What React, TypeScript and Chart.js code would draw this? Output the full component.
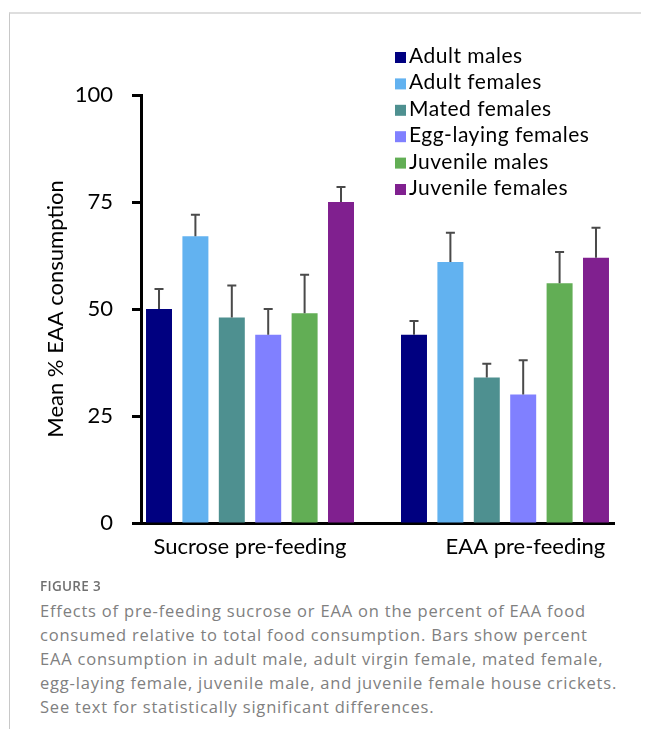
import React, { useEffect, useRef } from 'react';
import { Chart, registerables } from 'chart.js';

Chart.register(...registerables);

// ---- data ----
const conditions = ['Sucrose pre-feeding', 'EAA pre-feeding'];
const conditionIndex = [0, 1];
const conditionLabelPositions = [0, 1.08];
const seriesNames = [
  'Adult males',
  'Adult females',
  'Mated females',
  'Egg-laying females',
  'Juvenile males',
  'Juvenile females',
];
const seriesColors = ['#000080', '#62B2F0', '#4E9090', '#8080FF', '#62AE55', '#80208F'];
const adultMales = [50, 44];
const adultFemales = [67, 61];
const matedFemales = [48, 34];
const eggLayingFemales = [44, 30];
const juvenileMales = [49, 56];
const juvenileFemales = [75, 62];
const adultMalesErr = [4.7, 3.2];
const adultFemalesErr = [5, 6.8];
const matedFemalesErr = [7.5, 3.2];
const eggLayingFemalesErr = [6, 8];
const juvenileMalesErr = [9, 7.3];
const juvenileFemalesErr = [3.5, 7];
const yTicks = [0, 25, 50, 75, 100];
const yTitle = 'Mean % EAA consumption';

const seriesValues = [adultMales, adultFemales, matedFemales, eggLayingFemales, juvenileMales, juvenileFemales];
const seriesErrors = [adultMalesErr, adultFemalesErr, matedFemalesErr, eggLayingFemalesErr, juvenileMalesErr, juvenileFemalesErr];

const captionLines = [
  'Effects of pre-feeding sucrose or EAA on the percent of EAA food',
  'consumed relative to total food consumption. Bars show percent',
  'EAA consumption in adult male, adult virgin female, mated female,',
  'egg-laying female, juvenile male, and juvenile female house crickets.',
  'See text for statistically significant differences.',
];

const FONT = 'Lato, "Open Sans", sans-serif';

const errorBarPlugin = {
  id: 'errorBars',
  afterDatasetsDraw(chart: any) {
    const ctx = chart.ctx;
    const yScale = chart.scales.y;
    ctx.save();
    ctx.strokeStyle = '#4a4a4a';
    ctx.lineWidth = 2;
    chart.data.datasets.forEach((ds: any, di: number) => {
      const meta = chart.getDatasetMeta(di);
      meta.data.forEach((bar: any, i: number) => {
        const v = ds.data[i].y;
        const e = ds.errorBars[i];
        const yTop = yScale.getPixelForValue(v + e);
        ctx.beginPath();
        ctx.moveTo(bar.x, bar.y);
        ctx.lineTo(bar.x, yTop);
        ctx.moveTo(bar.x - 4.5, yTop);
        ctx.lineTo(bar.x + 4.5, yTop);
        ctx.stroke();
      });
    });
    ctx.restore();
  },
};

const legendPlugin = {
  id: 'insetLegend',
  afterDraw(chart: any) {
    const ctx = chart.ctx;
    ctx.save();
    ctx.font = `21px ${FONT}`;
    try {
      (ctx as any).letterSpacing = '0.5px';
    } catch (e) {
      /* ignore */
    }
    ctx.textBaseline = 'alphabetic';
    ctx.textAlign = 'left';
    chart.data.datasets.forEach((ds: any, i: number) => {
      const top = 44 + i * 26.4;
      ctx.fillStyle = ds.backgroundColor;
      ctx.fillRect(387, top, 11, 11);
      ctx.fillStyle = '#000';
      ctx.fillText(ds.label, 401, top + 11);
    });
    ctx.restore();
  },
};

function BarChart() {
  const ref = useRef<HTMLCanvasElement | null>(null);
  useEffect(() => {
    if (!ref.current) return;
    const datasets = seriesNames.map((name, si) => ({
      label: name,
      data: seriesValues[si].map((v, i) => ({ x: conditionIndex[i], y: v })),
      errorBars: seriesErrors[si],
      backgroundColor: seriesColors[si],
      borderWidth: 0,
      categoryPercentage: 0.8565,
      barPercentage: 0.714,
    }));
    const chart = new Chart(ref.current, {
      type: 'bar',
      data: { datasets } as any,
      options: {
        animation: false,
        responsive: false,
        maintainAspectRatio: false,
        layout: { padding: { top: 87, right: 35, bottom: 5, left: 0 } },
        plugins: {
          legend: { display: false },
          tooltip: { enabled: false },
        },
        scales: {
          x: {
            type: 'linear',
            offset: false,
            bounds: 'data',
            min: -0.4275,
            max: 1.4275,
            afterFit: (s: any) => {
              s.height = 50;
            },
            afterBuildTicks: (s: any) => {
              s.ticks = conditionLabelPositions.map((v) => ({ value: v }));
            },
            ticks: {
              autoSkip: false,
              maxRotation: 0,
              padding: 11,
              color: '#000',
              font: { family: FONT, size: 22 },
              callback: (_v: any, i: number) => conditions[i],
            },
            grid: { display: false, offset: false, drawOnChartArea: false, drawTicks: false },
            border: { display: true, color: '#000', width: 3 },
          },
          y: {
            type: 'linear',
            min: 0,
            max: 100,
            afterFit: (s: any) => {
              s.width = 133;
            },
            afterBuildTicks: (s: any) => {
              s.ticks = yTicks.map((v) => ({ value: v }));
            },
            ticks: {
              padding: 19,
              color: '#000',
              font: { family: FONT, size: 22 },
            },
            grid: {
              display: true,
              drawOnChartArea: false,
              drawTicks: true,
              tickLength: 9,
              tickWidth: 3,
              tickColor: '#000',
            },
            border: { display: true, color: '#000', width: 3 },
            title: {
              display: true,
              text: yTitle,
              color: '#000',
              font: { family: FONT, size: 22 },
              padding: { top: 35, bottom: 0 },
            },
          },
        },
      } as any,
      plugins: [errorBarPlugin, legendPlugin],
    });
    return () => chart.destroy();
  }, []);
  return (
    <canvas
      ref={ref}
      width={641}
      height={570}
      style={{ position: 'absolute', left: 0, top: 0, width: 641, height: 570 }}
    />
  );
}

export default function App() {
  useEffect(() => {
    document.documentElement.style.overflow = 'hidden';
    document.body.style.overflow = 'hidden';
  }, []);
  return (
    <div style={{ position: 'relative', width: 641, height: 721, background: '#fff' }}>
      <div
        style={{
          position: 'absolute',
          left: 1,
          top: 4,
          right: 0,
          height: 740,
          borderTop: '2px solid #dedede',
          borderLeft: '1px solid #c8c8c8',
          boxSizing: 'border-box',
        }}
      />
      <BarChart />
      <div
        style={{
          position: 'absolute',
          left: 32,
          top: 568,
          fontFamily: '"Open Sans", sans-serif',
          fontSize: 13.5,
          fontWeight: 600,
          lineHeight: '20px',
          color: '#707070',
          letterSpacing: 0.3,
          whiteSpace: 'nowrap',
        }}
      >
        FIGURE 3
      </div>
      <div
        style={{
          position: 'absolute',
          left: 32,
          top: 591,
          fontFamily: '"Open Sans", sans-serif',
          fontSize: 16.5,
          lineHeight: '24px',
          letterSpacing: 0.8,
          color: '#808080',
          whiteSpace: 'nowrap',
        }}
      >
        {captionLines.map((l, i) => (
          <div key={i}>{l}</div>
        ))}
      </div>
    </div>
  );
}
